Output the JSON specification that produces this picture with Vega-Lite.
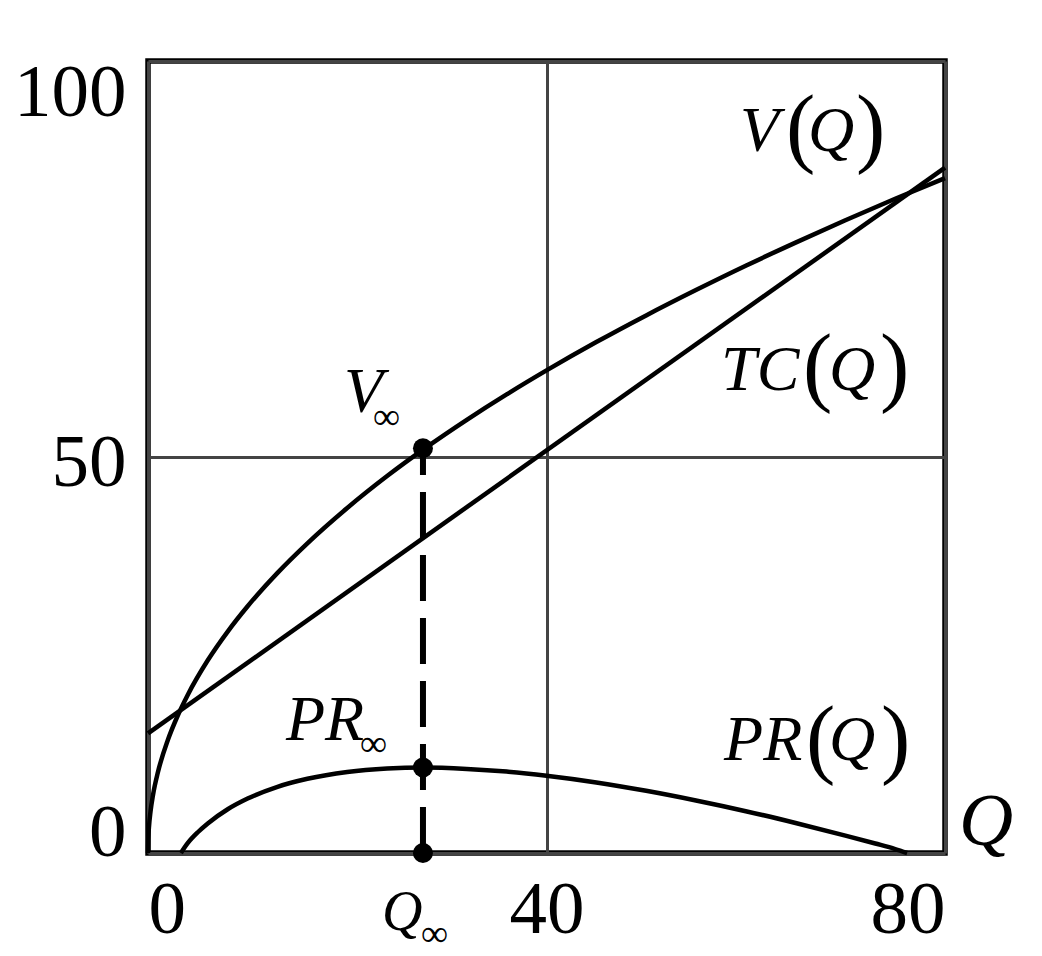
{
  "$schema": "https://vega.github.io/schema/vega-lite/v6.json",
  "width": 797,
  "height": 792,
  "autosize": "none",
  "padding": {"left": 148, "top": 61, "right": 97, "bottom": 103},
  "background": "white",
  "config": {
    "view": {"stroke": "black", "strokeWidth": 5.5},
    "font": "Liberation Serif"
  },
  "datasets": {
    "vq": [
      {"Q": 0, "v": 0}, {"Q": 0.02, "v": 1.54}, {"Q": 0.05, "v": 2.4}, {"Q": 0.1, "v": 3.35},
      {"Q": 0.25, "v": 5.22}, {"Q": 0.5, "v": 7.31}, {"Q": 1, "v": 10.22}, {"Q": 2, "v": 14.29},
      {"Q": 3, "v": 17.39}, {"Q": 4, "v": 19.99}, {"Q": 6, "v": 24.33}, {"Q": 8, "v": 27.96},
      {"Q": 10, "v": 31.15}, {"Q": 13, "v": 35.37}, {"Q": 16, "v": 39.1}, {"Q": 20, "v": 43.56},
      {"Q": 24, "v": 47.59}, {"Q": 28, "v": 51.27}, {"Q": 32, "v": 54.69}, {"Q": 36, "v": 57.9},
      {"Q": 40, "v": 60.93}, {"Q": 45, "v": 64.51}, {"Q": 50, "v": 67.88}, {"Q": 55, "v": 71.08},
      {"Q": 60, "v": 74.15}, {"Q": 65, "v": 77.07}, {"Q": 70, "v": 79.89}, {"Q": 75, "v": 82.6},
      {"Q": 80, "v": 85.22}
    ],
    "tc": [{"Q": 0, "v": 15.1}, {"Q": 80, "v": 86.54}],
    "pr": [
      {"Q": 3.3, "v": 0}, {"Q": 4, "v": 1.27}, {"Q": 5, "v": 2.62}, {"Q": 6, "v": 3.73},
      {"Q": 8, "v": 5.52}, {"Q": 10, "v": 6.87}, {"Q": 13, "v": 8.36}, {"Q": 16, "v": 9.37},
      {"Q": 20, "v": 10.23}, {"Q": 24, "v": 10.67}, {"Q": 27.6, "v": 10.8}, {"Q": 32, "v": 10.62},
      {"Q": 36, "v": 10.28}, {"Q": 40, "v": 9.76}, {"Q": 45, "v": 8.91}, {"Q": 50, "v": 7.85},
      {"Q": 55, "v": 6.63}, {"Q": 60, "v": 5.28}, {"Q": 65, "v": 3.79}, {"Q": 70, "v": 2.2},
      {"Q": 73, "v": 1.2}, {"Q": 75, "v": 0.5}, {"Q": 76.2, "v": 0}
    ],
    "pts": [{"Q": 27.6, "v": 51.1}, {"Q": 27.6, "v": 10.8}, {"Q": 27.6, "v": 0}],
    "dash": [{"Q": 27.6, "v": 0, "v2": 51.1}],
    "lab64": [
      {"t": "V", "Q": 59.42, "v": 88.64},
      {"t": "Q", "Q": 66.25, "v": 88.64},
      {"t": "TC", "Q": 57.52, "v": 58.46},
      {"t": "Q", "Q": 68.36, "v": 58.46},
      {"t": "PR", "Q": 57.82, "v": 11.74},
      {"t": "Q", "Q": 68.36, "v": 11.74},
      {"t": "V", "Q": 19.67, "v": 55.68},
      {"t": "PR", "Q": 13.85, "v": 14.27}
    ],
    "lab56": [{"t": "Q", "Q": 23.49, "v": -9.72}],
    "lab75": [{"t": "Q", "Q": 81.4, "v": 1.01}],
    "par": [
      {"t": "(", "Q": 64.04, "v": 88.01},
      {"t": ")", "Q": 71.07, "v": 88.01},
      {"t": "(", "Q": 65.75, "v": 57.83},
      {"t": ")", "Q": 73.48, "v": 57.83},
      {"t": "(", "Q": 66.05, "v": 10.86},
      {"t": ")", "Q": 73.58, "v": 10.86}
    ],
    "sub": [
      {"t": "∞", "Q": 22.58, "v": 53.54},
      {"t": "∞", "Q": 21.28, "v": 12.25},
      {"t": "∞", "Q": 27.4, "v": -11.74}
    ]
  },
  "layer": [
    {
      "data": {"name": "vq"},
      "mark": {"type": "line", "color": "black", "strokeWidth": 4.5, "interpolate": "monotone"},
      "encoding": {
        "x": {
          "field": "Q", "type": "quantitative",
          "scale": {"domain": [0, 80], "nice": false},
          "axis": {
            "values": [0, 40, 80], "title": null, "domain": false, "ticks": false,
            "labelFont": "Liberation Serif", "labelFontSize": 75, "labelColor": "black",
            "labelPadding": 20, "labelFlush": true, "labelBaseline": "top", "labelOverlap": false,
            "grid": true, "gridColor": "#444", "gridWidth": 3
          }
        },
        "y": {
          "field": "v", "type": "quantitative",
          "scale": {"domain": [0, 100], "nice": false},
          "axis": {
            "values": [0, 50, 100], "title": null, "domain": false, "ticks": false,
            "labelFont": "Liberation Serif", "labelFontSize": 75, "labelColor": "black",
            "labelPadding": 22, "labelFlush": false, "labelBaseline": "alphabetic", "labelOverlap": false,
            "labelOffset": {"condition": [{"test": "datum.value == 100", "value": 54}, {"test": "datum.value == 50", "value": 28}], "value": 2},
            "grid": true, "gridColor": "#444", "gridWidth": 3
          }
        }
      }
    },
    {
      "data": {"name": "tc"},
      "mark": {"type": "line", "color": "black", "strokeWidth": 4.5},
      "encoding": {"x": {"field": "Q", "type": "quantitative"}, "y": {"field": "v", "type": "quantitative"}}
    },
    {
      "data": {"name": "pr"},
      "mark": {"type": "line", "color": "black", "strokeWidth": 4.5, "interpolate": "monotone"},
      "encoding": {"x": {"field": "Q", "type": "quantitative"}, "y": {"field": "v", "type": "quantitative"}}
    },
    {
      "data": {"name": "dash"},
      "mark": {"type": "rule", "color": "black", "strokeWidth": 6, "strokeDash": [46, 17]},
      "encoding": {
        "x": {"field": "Q", "type": "quantitative"},
        "y": {"field": "v", "type": "quantitative"},
        "y2": {"field": "v2"}
      }
    },
    {
      "data": {"name": "pts"},
      "mark": {"type": "point", "filled": true, "shape": "circle", "color": "black", "opacity": 1, "size": 400},
      "encoding": {"x": {"field": "Q", "type": "quantitative"}, "y": {"field": "v", "type": "quantitative"}}
    },
    {
      "data": {"name": "lab64"},
      "mark": {"type": "text", "align": "left", "baseline": "alphabetic", "font": "Liberation Serif", "fontStyle": "italic", "fontSize": 64, "color": "black"},
      "encoding": {"x": {"field": "Q", "type": "quantitative"}, "y": {"field": "v", "type": "quantitative"}, "text": {"field": "t"}}
    },
    {
      "data": {"name": "lab56"},
      "mark": {"type": "text", "align": "left", "baseline": "alphabetic", "font": "Liberation Serif", "fontStyle": "italic", "fontSize": 56, "color": "black"},
      "encoding": {"x": {"field": "Q", "type": "quantitative"}, "y": {"field": "v", "type": "quantitative"}, "text": {"field": "t"}}
    },
    {
      "data": {"name": "lab75"},
      "mark": {"type": "text", "align": "left", "baseline": "alphabetic", "font": "Liberation Serif", "fontStyle": "italic", "fontSize": 75, "color": "black"},
      "encoding": {"x": {"field": "Q", "type": "quantitative"}, "y": {"field": "v", "type": "quantitative"}, "text": {"field": "t"}}
    },
    {
      "data": {"name": "par"},
      "mark": {"type": "text", "align": "left", "baseline": "alphabetic", "font": "Liberation Serif", "fontSize": 88, "color": "black"},
      "encoding": {"x": {"field": "Q", "type": "quantitative"}, "y": {"field": "v", "type": "quantitative"}, "text": {"field": "t"}}
    },
    {
      "data": {"name": "sub"},
      "mark": {"type": "text", "align": "left", "baseline": "alphabetic", "font": "Liberation Serif", "fontSize": 38, "color": "black"},
      "encoding": {"x": {"field": "Q", "type": "quantitative"}, "y": {"field": "v", "type": "quantitative"}, "text": {"field": "t"}}
    }
  ]
}
